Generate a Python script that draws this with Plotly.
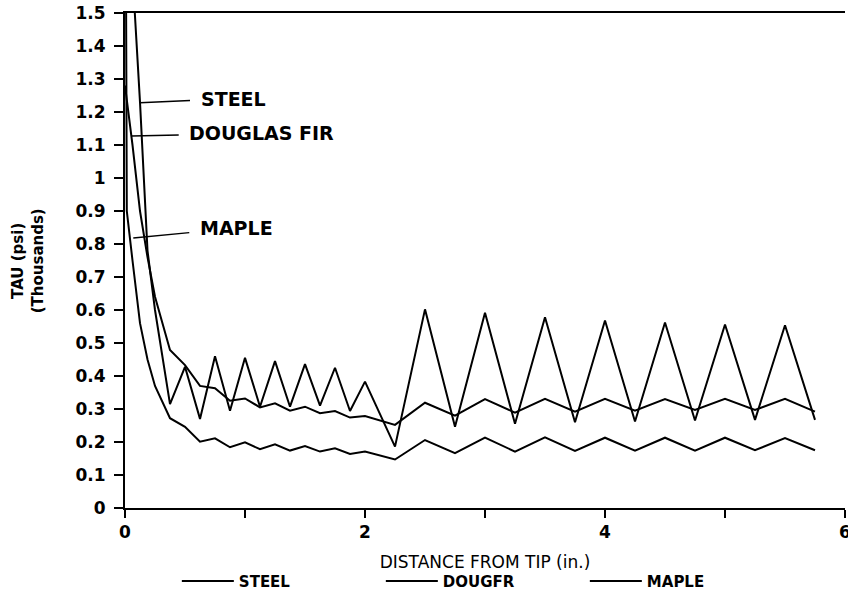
import plotly.graph_objects as go

# distance from tip (in.)
x_main = [0, 0.0625, 0.125, 0.1875, 0.25,
          0.375, 0.5, 0.625, 0.75, 0.875, 1.0, 1.125, 1.25, 1.375, 1.5, 1.625, 1.75, 1.875, 2.0,
          2.25,
          2.5, 2.75, 3.0, 3.25, 3.5, 3.75, 4.0, 4.25, 4.5, 4.75, 5.0, 5.25, 5.5, 5.75]
x_maple = [0, 0.015, 0.0625, 0.125, 0.1875, 0.25,
           0.375, 0.5, 0.625, 0.75, 0.875, 1.0, 1.125, 1.25, 1.375, 1.5, 1.625, 1.75, 1.875, 2.0,
           2.25,
           2.5, 2.75, 3.0, 3.25, 3.5, 3.75, 4.0, 4.25, 4.5, 4.75, 5.0, 5.25, 5.5, 5.75]

# TAU (psi, thousands)
steel = [2.6, 1.62, 1.23, 0.78, 0.60,
         0.315, 0.428, 0.27, 0.46, 0.295, 0.455, 0.307, 0.445, 0.307, 0.436, 0.31, 0.425, 0.294, 0.383,
         0.186,
         0.602, 0.246, 0.592, 0.255, 0.578, 0.26, 0.568, 0.262, 0.562, 0.265, 0.556, 0.267, 0.554, 0.267]
dougfr = [1.28, 1.10, 0.90, 0.76, 0.64,
          0.479, 0.433, 0.37, 0.363, 0.325, 0.332, 0.305, 0.317, 0.295, 0.307, 0.287, 0.294, 0.274, 0.279,
          0.252,
          0.319, 0.28, 0.33, 0.289, 0.331, 0.292, 0.331, 0.295, 0.33, 0.297, 0.331, 0.297, 0.331, 0.292]
maple = [2.5, 0.90, 0.75, 0.56, 0.45, 0.37,
         0.272, 0.246, 0.201, 0.211, 0.184, 0.199, 0.178, 0.193, 0.174, 0.188, 0.171, 0.181, 0.164, 0.171,
         0.147,
         0.206, 0.166, 0.213, 0.171, 0.214, 0.173, 0.213, 0.174, 0.213, 0.174, 0.213, 0.175, 0.212, 0.175]

x_tickvals = [0, 1, 2, 3, 4, 5, 6]
x_ticktext = ["0", "", "2", "", "4", "", "6"]
y_tickvals = [0, 0.1, 0.2, 0.3, 0.4, 0.5, 0.6, 0.7, 0.8, 0.9, 1.0, 1.1, 1.2, 1.3, 1.4, 1.5]
y_ticktext = ["0", "0.1", "0.2", "0.3", "0.4", "0.5", "0.6", "0.7", "0.8", "0.9", "1",
              "1.1", "1.2", "1.3", "1.4", "1.5"]

# hand-written labels: (text, x, y of the line they point to)
labels = [("STEEL", 0.125, 1.228), ("DOUGLAS FIR", 0.056, 1.127), ("MAPLE", 0.069, 0.818)]
label_offsets = [(93, -4), (130, -3), (103, -10)]

FONT = "DejaVu Sans"
line_style = dict(color="black", width=2)

fig = go.Figure()
fig.add_trace(go.Scatter(x=x_main, y=steel, mode="lines", name="STEEL", line=line_style))
fig.add_trace(go.Scatter(x=x_main, y=dougfr, mode="lines", name="DOUGFR", line=line_style))
fig.add_trace(go.Scatter(x=x_maple, y=maple, mode="lines", name="MAPLE", line=line_style))

for (txt, lx, ly), (ax, ay) in zip(labels, label_offsets):
    fig.add_annotation(x=lx, y=ly, text=txt, showarrow=True, arrowhead=0, arrowwidth=1.5,
                       arrowcolor="black", ax=ax, ay=ay, borderpad=10,
                       font=dict(family=FONT, size=19, color="black", weight="bold"))

fig.add_annotation(xref="paper", yref="paper", x=-0.135, y=0.5, xanchor="center", yanchor="middle",
                   textangle=-90, text="TAU (psi)<br>(Thousands)", showarrow=False,
                   font=dict(family=FONT, size=15, color="black", weight="bold"))

fig.update_layout(
    width=848, height=596,
    margin=dict(l=125, r=3, t=13, b=88, autoexpand=False),
    paper_bgcolor="white", plot_bgcolor="white",
    showlegend=True,
    legend=dict(orientation="h", x=0.072, xanchor="left", y=-0.148, yanchor="middle",
                entrywidth=137, entrywidthmode="pixels", itemwidth=52,
                font=dict(family=FONT, size=15, color="black", weight="bold")),
    xaxis=dict(range=[0, 6], tickvals=x_tickvals, ticktext=x_ticktext, automargin=False,
               showline=True, linecolor="black", linewidth=2, mirror=True,
               ticks="outside", ticklen=8, tickwidth=2, tickcolor="black",
               ticklabeloverflow="allow",
               showgrid=False, zeroline=False,
               tickfont=dict(family=FONT, size=17, color="black", weight="bold"),
               title=dict(text="DISTANCE FROM TIP (in.)", standoff=15,
                          font=dict(family=FONT, size=17, color="black"))),
    yaxis=dict(range=[0, 1.5], tickvals=y_tickvals, ticktext=y_ticktext, automargin=False,
               showline=True, linecolor="black", linewidth=2,
               ticks="outside", ticklen=9, tickwidth=2, tickcolor="black",
               ticklabelstandoff=5, ticklabeloverflow="allow",
               showgrid=False, zeroline=False,
               tickfont=dict(family=FONT, size=17, color="black", weight="bold")),
)

fig.write_html("out.html", config={"displayModeBar": False},
               post_script="document.body.style.margin='0';")
